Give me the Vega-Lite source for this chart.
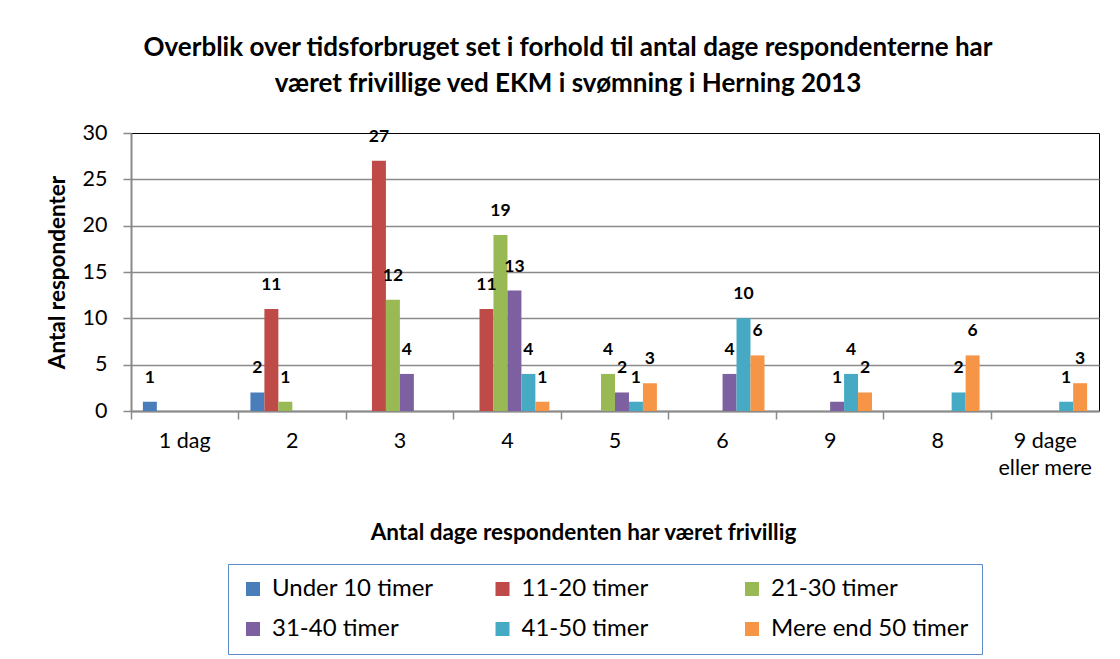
{
  "$schema": "https://vega.github.io/schema/vega-lite/v6.json",
  "width": 968,
  "height": 278,
  "autosize": {"type": "none"},
  "padding": {"left": 131, "top": 133, "right": 21, "bottom": 248},
  "background": "white",
  "title": {
    "text": ["Overblik over tidsforbruget set i forhold til antal dage  respondenterne har", "været frivillige ved EKM i svømning i Herning 2013"],
    "anchor": "middle",
    "dx": -47,
    "offset": 25,
    "font": "Lato",
    "fontSize": 26,
    "fontWeight": "bold",
    "color": "#000000",
    "lineHeight": 36
  },
  "config": {
    "font": "Lato",
    "view": {"stroke": "#000000", "strokeWidth": 1},
    "axis": {"labelColor": "#000000", "titleColor": "#000000", "domainColor": "#8a8a8a", "tickColor": "#8a8a8a", "domainWidth": 2, "tickWidth": 1.5}
  },
  "data": {
    "values": [
      {"dage": "1 dag", "timer": "Under 10 timer", "antal": 1},
      {"dage": "2", "timer": "Under 10 timer", "antal": 2},
      {"dage": "2", "timer": "11-20 timer", "antal": 11},
      {"dage": "2", "timer": "21-30 timer", "antal": 1},
      {"dage": "3", "timer": "11-20 timer", "antal": 27},
      {"dage": "3", "timer": "21-30 timer", "antal": 12},
      {"dage": "3", "timer": "31-40 timer", "antal": 4},
      {"dage": "4", "timer": "11-20 timer", "antal": 11},
      {"dage": "4", "timer": "21-30 timer", "antal": 19},
      {"dage": "4", "timer": "31-40 timer", "antal": 13},
      {"dage": "4", "timer": "41-50 timer", "antal": 4},
      {"dage": "4", "timer": "Mere end 50 timer", "antal": 1},
      {"dage": "5", "timer": "21-30 timer", "antal": 4},
      {"dage": "5", "timer": "31-40 timer", "antal": 2},
      {"dage": "5", "timer": "41-50 timer", "antal": 1},
      {"dage": "5", "timer": "Mere end 50 timer", "antal": 3},
      {"dage": "6", "timer": "31-40 timer", "antal": 4},
      {"dage": "6", "timer": "41-50 timer", "antal": 10},
      {"dage": "6", "timer": "Mere end 50 timer", "antal": 6},
      {"dage": "9", "timer": "31-40 timer", "antal": 1},
      {"dage": "9", "timer": "41-50 timer", "antal": 4},
      {"dage": "9", "timer": "Mere end 50 timer", "antal": 2},
      {"dage": "8", "timer": "41-50 timer", "antal": 2},
      {"dage": "8", "timer": "Mere end 50 timer", "antal": 6},
      {"dage": "9 dage eller mere", "timer": "41-50 timer", "antal": 1},
      {"dage": "9 dage eller mere", "timer": "Mere end 50 timer", "antal": 3}
    ]
  },
  "encoding": {
    "x": {
      "field": "dage",
      "type": "nominal",
      "sort": ["1 dag", "2", "3", "4", "5", "6", "9", "8", "9 dage eller mere"],
      "scale": {"paddingInner": 0, "paddingOuter": 0},
      "axis": {
        "title": "Antal dage respondenten har været frivillig",
        "titleFontSize": 22.5,
        "titleFontWeight": "bold",
        "titleX": 452,
        "titleY": 110,
        "labelAngle": 0,
        "labelFontSize": 21.5,
        "labelPadding": 11,
        "labelExpr": "datum.label == '9 dage eller mere' ? ['9 dage', 'eller mere'] : datum.label",
        "labelLineHeight": 27,
        "bandPosition": 0,
        "tickSize": 8,
        "grid": false
      }
    },
    "xOffset": {
      "field": "timer",
      "type": "nominal",
      "sort": ["Under 10 timer", "11-20 timer", "21-30 timer", "31-40 timer", "41-50 timer", "Mere end 50 timer"],
      "scale": {"domain": ["Under 10 timer", "11-20 timer", "21-30 timer", "31-40 timer", "41-50 timer", "Mere end 50 timer"], "paddingInner": 0, "paddingOuter": 0.85}
    },
    "y": {
      "field": "antal",
      "type": "quantitative",
      "scale": {"domain": [0, 30], "nice": false},
      "axis": {
        "title": "Antal respondenter",
        "titleFontSize": 22.5,
        "titleFontWeight": "bold",
        "titlePadding": 13,
        "values": [0, 5, 10, 15, 20, 25, 30],
        "labelFontSize": 21.5,
        "labelPadding": 16,
        "tickSize": 8,
        "grid": true,
        "gridColor": {"condition": {"test": "datum.value == 30", "value": "transparent"}, "value": "#8a8a8a"},
        "gridWidth": 1.3
      }
    }
  },
  "layer": [
    {
      "mark": {"type": "bar"},
      "encoding": {
        "color": {
          "field": "timer",
          "type": "nominal",
          "scale": {
            "domain": ["Under 10 timer", "11-20 timer", "21-30 timer", "31-40 timer", "41-50 timer", "Mere end 50 timer"],
            "range": ["#4a7ebb", "#be4b48", "#98b954", "#7d60a0", "#46aac5", "#f69546"]
          },
          "legend": {
            "title": null,
            "orient": "none",
            "legendX": 97,
            "legendY": 431,
            "direction": "horizontal",
            "columns": 3,
            "gridAlign": "all",
            "columnPadding": 20.5,
            "rowPadding": 16,
            "padding": 13,
            "strokeColor": "#5b8bc9",
            "symbolType": "square",
            "symbolSize": 196,
            "symbolStrokeWidth": 0,
            "labelFontSize": 24,
            "labelOffset": 7,
            "labelColor": "#000000",
            "labelLimit": 400
          }
        }
      }
    },
    {
      "mark": {"type": "text", "baseline": "alphabetic", "dy": -19, "fontSize": 17.5, "fontWeight": "bold", "color": "#000000"},
      "encoding": {"text": {"field": "antal", "type": "quantitative"}}
    }
  ]
}
